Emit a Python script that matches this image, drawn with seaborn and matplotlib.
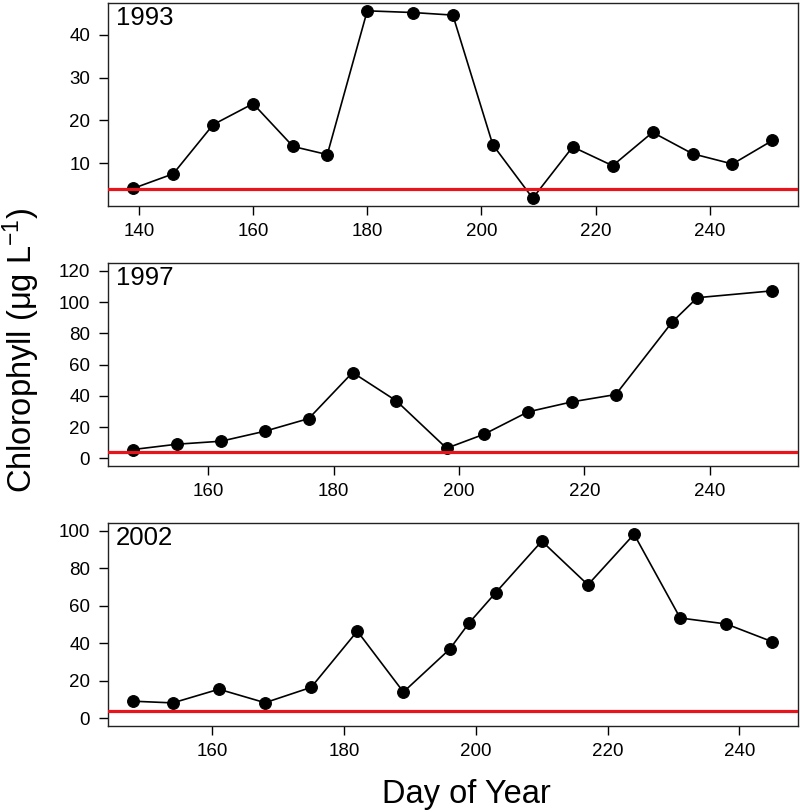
import numpy as np
import pandas as pd
import seaborn as sns
import matplotlib
matplotlib.use("Agg")
import matplotlib.pyplot as plt

# chlorophyll samples, one list pair per year
days_1993 = [139, 146, 153, 160, 167, 173, 180, 188, 195, 202, 209, 216, 223, 230, 237, 244, 251]
chl_1993 = [4.1, 7.5, 19.0, 23.9, 13.9, 12.0, 45.6, 45.2, 44.6, 14.3, 1.8, 13.8, 9.4, 17.2, 12.2, 9.8, 15.3]

days_1997 = [148, 155, 162, 169, 176, 183, 190, 198, 204, 211, 218, 225, 234, 238, 250]
chl_1997 = [5.6, 9.0, 10.9, 17.3, 25.4, 54.9, 36.7, 6.4, 15.4, 29.7, 36.1, 40.8, 87.2, 102.8, 107.2]

days_2002 = [148, 154, 161, 168, 175, 182, 189, 196, 199, 203, 210, 217, 224, 231, 238, 245]
chl_2002 = [9.1, 8.2, 15.5, 8.3, 16.5, 46.5, 14.0, 36.8, 51.0, 67.0, 94.5, 71.2, 98.2, 53.5, 50.3, 40.8]

years = ["1993", "1997", "2002"]
threshold = 4.0

x_ticks = [[140, 160, 180, 200, 220, 240], [160, 180, 200, 220, 240], [160, 180, 200, 220, 240]]
y_ticks = [[10, 20, 30, 40], [0, 20, 40, 60, 80, 100, 120], [0, 20, 40, 60, 80, 100]]
# fixed y ranges (None = fit data)
y_ranges = [None, (0, 120), (0, 100)]

sns.set_style("ticks")
plt.rcParams["font.family"] = ["Liberation Sans", "DejaVu Sans"]
plt.rcParams["mathtext.fontset"] = "custom"
plt.rcParams["mathtext.rm"] = "Liberation Sans"
plt.rcParams["mathtext.it"] = "Liberation Sans:italic"
for k in ["text.color", "axes.labelcolor", "xtick.color", "ytick.color", "axes.edgecolor"]:
    plt.rcParams[k] = "black"

fig, axes = plt.subplots(3, 1, figsize=(8, 8.1), dpi=100)
fig.subplots_adjust(left=0.1346, right=0.9975, top=0.9959, bottom=0.104, hspace=0.2846)

series = [(days_1993, chl_1993), (days_1997, chl_1997), (days_2002, chl_2002)]
for ax, (d, c), yr, xt, yt, yr_lim in zip(axes, series, years, x_ticks, y_ticks, y_ranges):
    df = pd.DataFrame({"day": d, "chl": c})
    sns.lineplot(data=df, x="day", y="chl", ax=ax, color="black", linewidth=1.2,
                 marker="o", markersize=8.5, markeredgecolor="black", markerfacecolor="black")
    ax.axhline(threshold, color="#e8141c", linewidth=2.3, zorder=5)

    # R-style 4% padding
    span = max(d) - min(d)
    ax.set_xlim(min(d) - 0.04 * span, max(d) + 0.04 * span)
    lo, hi = yr_lim if yr_lim else (min(c), max(c))
    ax.set_ylim(lo - 0.04 * (hi - lo), hi + 0.04 * (hi - lo))

    ax.set_xticks(xt)
    ax.set_yticks(yt)
    ax.tick_params(labelsize=13.5, length=6.7, width=1, pad=6, color="black", labelcolor="black")
    ax.set_xlabel("")
    ax.set_ylabel("")
    for s in ax.spines.values():
        s.set_visible(True)
        s.set_linewidth(1)
        s.set_color("#222222")
    ax.text(0.012, 0.985, yr, transform=ax.transAxes, ha="left", va="top", fontsize=18.5)

fig.text(0.027, 0.567, r"Chlorophyll ($\mathrm{\mu}$g L$^{-1}$)", rotation=90,
         ha="center", va="center", fontsize=23.5)
fig.text(0.5825, 0.0086, "Day of Year", ha="center", va="baseline", fontsize=23.5)

fig.savefig("out.png", dpi=100)
